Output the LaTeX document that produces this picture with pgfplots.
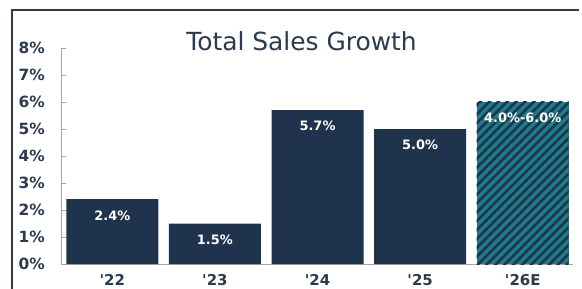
\documentclass[border=0pt]{standalone}
\usepackage{fontspec}
\setmainfont{DejaVu Sans}
\usepackage{pgfplots}
\pgfplotsset{compat=1.18}
\usetikzlibrary{patterns.meta}
\definecolor{navy}{HTML}{1F334D}
\definecolor{tealc}{HTML}{1C7C88}
\definecolor{txt}{HTML}{2B3A4E}
\definecolor{framec}{HTML}{2D3B4C}
\begin{document}
\begin{tikzpicture}[x=1bp,y=1bp]
\path[use as bounding box] (0,0) rectangle (582,288);
\clip (0,0) rectangle (582,288);
\fill[white] (0,0) rectangle (582,288);
\draw[line width=2.5bp, framec] (12,-5) -- (12,278) -- (579,278);
\node[anchor=base, font=\fontsize{25}{25}\selectfont, text=txt, inner sep=0pt] at (301.5,238) {Total Sales Growth};
\begin{axis}[
  at={(61bp,24bp)}, anchor=south west,
  scale only axis, width=512bp, height=216bp,
  xmin=-0.5, xmax=4.49, ymin=0, ymax=8,
  axis x line=bottom, axis y line=left,
  axis line style={-, draw=gray!70, line width=0.8bp},
  ytick={0,1,...,8},
  yticklabels={0\%,1\%,2\%,3\%,4\%,5\%,6\%,7\%,8\%},
  xtick={0,1,2,3,4},
  xticklabels={\textquotesingle22,\textquotesingle23,\textquotesingle24,\textquotesingle25,\textquotesingle26E},
  xtick style={draw=none},
  ytick style={draw=gray!70, line width=0.6bp},
  tick align=inside, major tick length=5bp,
  yticklabel style={font=\fontsize{15.5}{15.5}\selectfont\bfseries, text=txt, anchor=east, inner sep=0pt, xshift=-16bp},
  xticklabel style={font=\fontsize{15}{15}\selectfont\bfseries, text=txt, anchor=north, inner sep=0pt, yshift=-5bp},
  ybar, bar width=92bp, bar shift=0pt,
  point meta=explicit symbolic,
  nodes near coords,
  nodes near coords style={font=\fontsize{13}{13}\selectfont\bfseries, text=white, anchor=north, inner sep=0pt, yshift=-11bp},
  clip=false,
]
\addplot[fill=navy, draw=none] coordinates {(0,2.4)[2.4\%] (1,1.5)[1.5\%] (2,5.7)[5.7\%] (3,5.0)[5.0\%]};
\addplot[fill=tealc, draw=none, postaction={pattern={Lines[angle=45,distance=6.3bp,line width=2.6bp]}, pattern color=navy}] coordinates {(4,6.0)[4.0\%-6.0\%]};
\end{axis}
\end{tikzpicture}
\end{document}
